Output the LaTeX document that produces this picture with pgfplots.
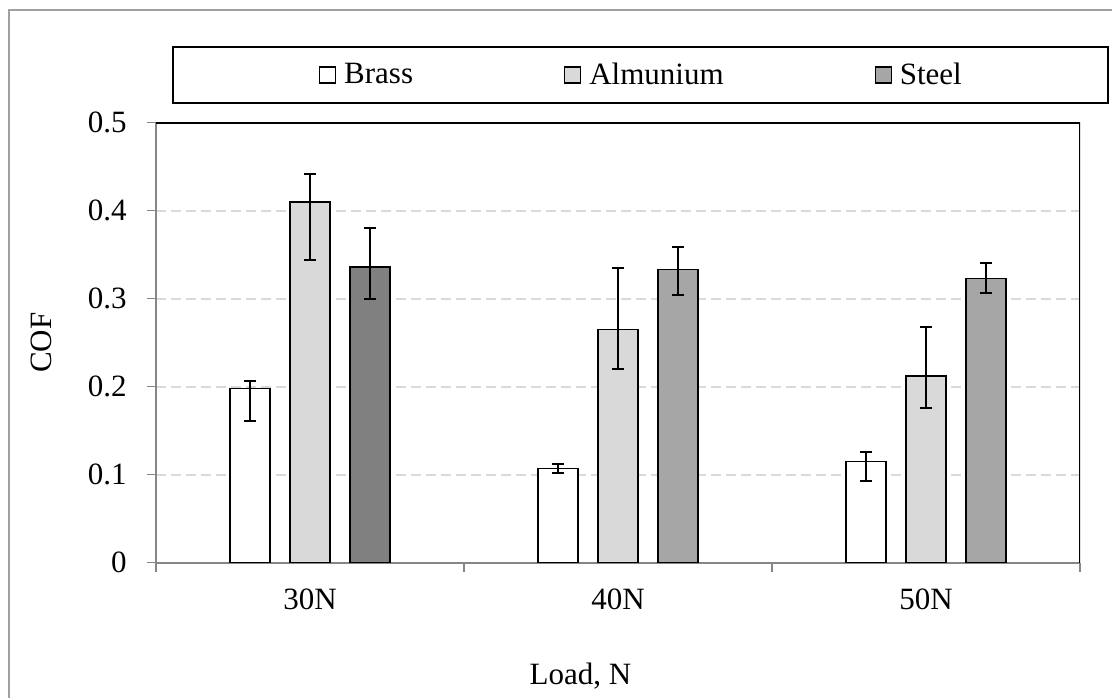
\documentclass[border=0pt]{standalone}
\usepackage{pgfplots}
\pgfplotsset{compat=1.18}
\usepackage{fontspec}
\setmainfont{Liberation Serif}

\definecolor{alu}{HTML}{D9D9D9}
\definecolor{steel}{HTML}{A6A6A6}
\definecolor{steeldark}{HTML}{808080}
\definecolor{axisgray}{HTML}{868686}
\definecolor{gridgray}{HTML}{D9D9D9}
\definecolor{framegray}{HTML}{A0A0A0}

\pgfplotsset{
  cofbar/.style={
    draw=black, line width=0.75bp,
    error bars/y dir=both,
    error bars/y explicit,
    error bars/error bar style={black, line width=1bp},
    error bars/error mark options={rotate=90, black, mark size=2.85bp, line width=1bp},
  },
}

\begin{document}
\begin{tikzpicture}[x=1bp,y=1bp]
\useasboundingbox (0,0) rectangle (556,348.5);
\clip (0,0) rectangle (556,348.5);
\fill[white] (0,0) rectangle (556,348.5);
% chart area frame
\draw[framegray, line width=0.7bp] (4.5,-20) rectangle (600,343.4);
\begin{axis}[
  at={(78bp,67.15bp)}, anchor=south west,
  scale only axis, width=462bp, height=220bp,
  font=\fontsize{15.5bp}{18bp}\selectfont,
  xmin=-0.5, xmax=2.5, ymin=0, ymax=0.5,
  axis x line*=bottom, axis y line*=left,
  axis line style={-, axisgray, line width=0.9bp},
  xtick={-0.5,0.5,1.5,2.5},
  x tick label as interval,
  xticklabels={30N,40N,50N},
  ytick={0,0.1,0.2,0.3,0.4,0.5},
  yticklabels={0,0.1,0.2,0.3,0.4,0.5},
  tick align=outside,
  major tick length=4.75bp,
  tick style={axisgray, line width=0.7bp},
  xticklabel style={inner sep=0pt, anchor=north, yshift=-8.25bp},
  yticklabel style={inner sep=0pt, anchor=east, xshift=-9.75bp},
  ymajorgrids,
  grid style={gridgray, dash pattern=on 5bp off 2.5bp, line width=0.8bp},
  ybar, bar width=20bp,
  ylabel={COF},
  ylabel style={at={(axis description cs:-0.1239,0.5)}, anchor=center, inner sep=0pt},
  xlabel={Load, N},
  xlabel style={at={(axis description cs:0.4594,-0.2778)}, anchor=base, inner sep=0pt},
  legend columns=3,
  legend image code/.code={\draw[#1, line width=0.6bp] (0bp,-4bp) rectangle (8bp,4bp);},
  legend style={
    at={(axis description cs:0.0173,1.175)}, anchor=north west,
    draw=black, line width=1bp,
    inner xsep=73bp, inner ysep=8bp,
    nodes={inner sep=0pt},
    /tikz/every even column/.append style={column sep=75.5bp},
    /tikz/every odd column/.append style={column sep=4bp},
  },
]
\addplot[cofbar, fill=white, bar shift=-30bp] coordinates {
  (0,0.198) += (0,0.009) -= (0,0.037)
  (1,0.107) += (0,0.005) -= (0,0.005)
  (2,0.115) += (0,0.011) -= (0,0.022)
};
\addlegendentry{Brass}
\addplot[cofbar, fill=alu, bar shift=0bp] coordinates {
  (0,0.410) += (0,0.032) -= (0,0.066)
  (1,0.265) += (0,0.070) -= (0,0.045)
  (2,0.212) += (0,0.056) -= (0,0.036)
};
\addlegendentry{Almunium}
\addplot[cofbar, fill=steel, bar shift=30bp] coordinates {
  (1,0.333) += (0,0.026) -= (0,0.029)
  (2,0.323) += (0,0.018) -= (0,0.017)
};
\addlegendentry{Steel}
\addplot[cofbar, fill=steeldark, bar shift=30bp, forget plot] coordinates {
  (0,0.336) += (0,0.044) -= (0,0.036)
};
% plot area border on top and right
\draw[black, line width=0.9bp] (rel axis cs:0,1) -- (rel axis cs:1,1) -- (rel axis cs:1,0);
\end{axis}
\end{tikzpicture}
\end{document}
